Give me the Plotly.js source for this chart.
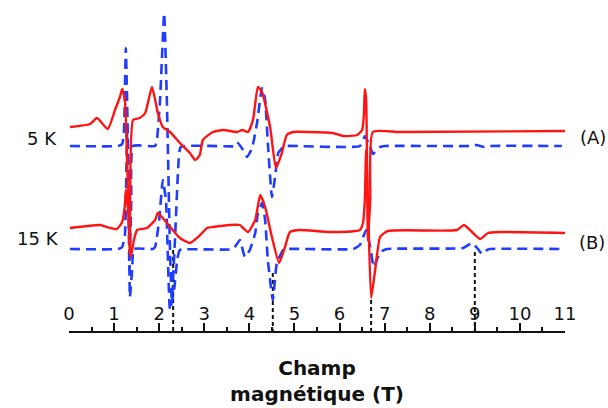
<!DOCTYPE html>
<html>
<head>
<meta charset="utf-8">
<script src="https://cdn.plot.ly/plotly-3.0.1.min.js"></script>
<style>html,body{margin:0;padding:0;background:#fff}#chart{width:608px;height:408px}</style>
</head>
<body>
<div id="chart"></div>
<script>
// Magnetic field (T) and intensity (arbitrary units, spectra stacked with offsets)
const fieldRedA = [0.02,0.47,0.62,0.86,1.02,1.13,1.18,1.24,1.35,1.42,1.57,1.69,1.84,1.97,2.08,2.24,2.46,2.68,2.80,2.90,2.97,3.19,3.42,3.73,3.84,3.97,4.08,4.19,4.28,4.46,4.59,4.72,4.83,4.97,5.34,5.85,6.08,6.39,6.50,6.54,6.56,6.59,6.63,6.68,6.74,7.34,11.0];
const intRedA   = [204,207,213,202,221,234,242,231,76,211,213,218,244,218,204,199,188,178,171,176,191,199,201,199,201,199,211,244,239,204,163,178,196,199,199,198,195,196,201,216,242,231,91,131,199,199,200];

const fieldRedB = [0.02,0.69,0.84,1.06,1.18,1.24,1.26,1.33,1.37,1.44,1.51,1.73,1.91,1.97,2.17,2.46,2.68,2.91,3.06,3.19,3.57,3.79,3.86,3.97,4.13,4.24,4.35,4.50,4.66,4.79,4.90,5.12,5.79,6.45,6.52,6.56,6.59,6.63,6.70,6.79,6.90,7.07,8.60,8.76,8.96,9.12,9.29,9.56,11.0];
const intRedB   = [103,106,104,102,109,126,141,111,74,91,101,103,111,118,108,93,88,96,103,104,106,106,103,99,111,136,124,94,68,84,99,101,99,101,108,131,181,131,33,61,94,100,101,106,98,92,98,99,98];

const fieldBlueA = [0.02,1.09,1.18,1.22,1.26,1.31,1.34,1.38,1.42,1.91,1.95,2.02,2.11,2.17,2.24,2.28,2.35,2.42,2.48,3.73,3.75,3.86,3.95,4.06,4.17,4.28,4.35,4.41,4.50,4.57,4.64,4.75,4.79,6.45,6.56,6.68,6.74,6.90,7.01,8.89,9.03,9.21,9.34,10.93];
const intBlueA   = [185,185,187,201,283,181,60,131,185,185,191,231,318,231,81,31,91,161,184,185,188,181,174,183,208,243,231,188,134,154,178,184,185,185,195,184,177,184,185,185,186,184,185,185];

const fieldBlueB = [0.02,1.09,1.18,1.24,1.29,1.33,1.35,1.40,1.44,1.86,1.91,2.00,2.08,2.15,2.24,2.33,2.40,2.46,3.64,3.79,3.90,4.01,4.13,4.19,4.28,4.35,4.41,4.52,4.61,4.75,4.79,6.30,6.45,6.59,6.68,6.76,6.90,7.05,8.74,8.94,9.07,9.16,9.27,9.34,10.93];
const intBlueB   = [82,82,84,96,200,131,34,61,82,82,84,111,151,131,21,41,71,81,82,91,74,81,98,118,128,111,71,31,68,81,82,82,86,101,84,64,79,82,83,88,82,77,81,82,82];

// Resonance field markers (T) and the height where each dashed guide starts
const markerFields = [2.31, 4.52, 6.70, 9.00];
const markerTops   = [81, 58, 31, 79];

const tickValues = [0,1,2,3,4,5,6,7,8,9,10,11];
const tickLabels = ['0','1','2','3','4','5','6','7','8','9','10','11'];

const RED = '#ff1414', BLUE = '#1f3cff';
const traces = [];
markerFields.forEach((f, i) => {
  traces.push({x:[f, f], y:[markerTops[i], 0], mode:'lines', hoverinfo:'skip', showlegend:false,
    line:{color:'#111', width:2, dash:'4px,3px'}});
});
traces.push({x:fieldBlueA, y:intBlueA, mode:'lines', showlegend:false, line:{color:BLUE, width:2.6, dash:'10px,6px', shape:'spline', smoothing:0.4}});
traces.push({x:fieldBlueB, y:intBlueB, mode:'lines', showlegend:false, line:{color:BLUE, width:2.6, dash:'10px,6px', shape:'spline', smoothing:0.4}});
traces.push({x:fieldRedA, y:intRedA, mode:'lines', showlegend:false, line:{color:RED, width:2.4, shape:'spline', smoothing:0.5}});
traces.push({x:fieldRedB, y:intRedB, mode:'lines', showlegend:false, line:{color:RED, width:2.4, shape:'spline', smoothing:0.5}});

const lblFont = {family:'DejaVu Sans', size:18, color:'#111'};
const layout = {
  width:608, height:408,
  margin:{l:69, r:43, t:0, b:77},
  paper_bgcolor:'#fff', plot_bgcolor:'#fff',
  xaxis:{
    range:[0,11], tickvals:tickValues, ticktext:tickLabels,
    ticks:'inside', ticklen:8, tickwidth:2, tickcolor:'#111',
    ticklabelposition:'inside', ticklabeloverflow:'allow', tickfont:lblFont,
    showline:true, linewidth:2, linecolor:'#111',
    showgrid:false, zeroline:false, fixedrange:true, automargin:false,
    minor:{dtick:0.5, tick0:0, ticks:'inside', ticklen:4, tickwidth:2, tickcolor:'#111', showgrid:false},
    title:{text:'Champ<br>magnétique (T)', standoff:38,
      font:{family:'DejaVu Sans', size:20, color:'#111', weight:'bold'}}
  },
  yaxis:{range:[0,331], visible:false, fixedrange:true},
  annotations:[
    {x:-0.020, y:193, xref:'paper', yref:'y', text:'5 K', showarrow:false, xanchor:'right', yanchor:'middle', font:lblFont},
    {x:-0.016, y:93, xref:'paper', yref:'y', text:'15 K', showarrow:false, xanchor:'right', yanchor:'middle', font:lblFont},
    {x:1.026, y:194, xref:'paper', yref:'y', text:'(A)', showarrow:false, xanchor:'left', yanchor:'middle', font:lblFont},
    {x:1.024, y:89, xref:'paper', yref:'y', text:'(B)', showarrow:false, xanchor:'left', yanchor:'middle', font:lblFont}
  ],
  showlegend:false
};
Plotly.newPlot('chart', traces, layout, {displayModeBar:false, staticPlot:true});
</script>
</body>
</html>
